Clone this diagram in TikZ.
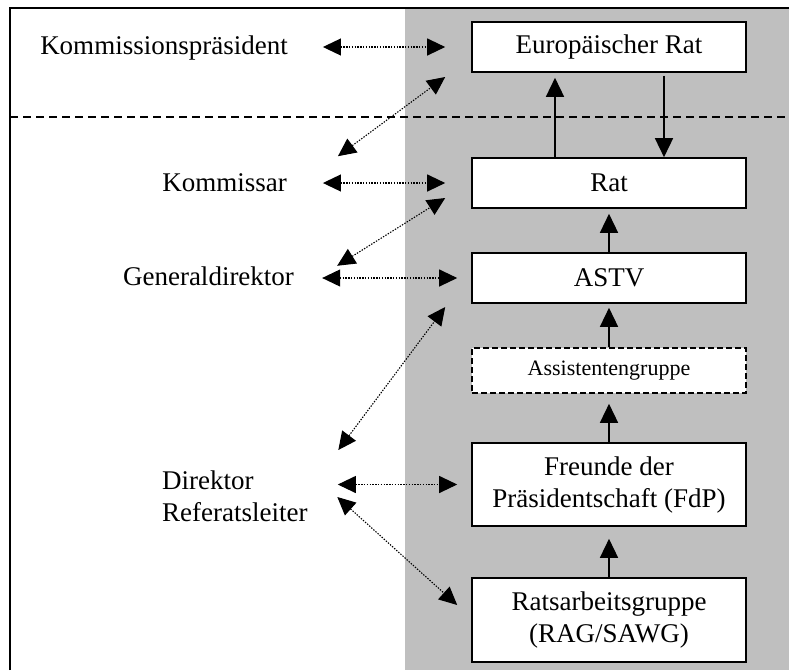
\documentclass[tikz,border=0pt]{standalone}
\usepackage{fontspec}
\setmainfont{Liberation Serif}
\usetikzlibrary{arrows.meta,calc}

\begin{document}
\begin{tikzpicture}[x=1pt,y=-1pt,font=\fontsize{27}{32}\selectfont,
  box/.style={draw,line width=1.6pt,fill=white,minimum width=274pt,align=center},
  lbl/.style={inner sep=0pt},
  flow/.style={line width=1.5pt,-{Triangle[length=19pt,width=18pt]}},
  link/.style={line width=1.1pt,dash pattern=on 1.4pt off 1.4pt,{Triangle[length=18pt,width=17pt]}-{Triangle[length=18pt,width=17pt]}}]
% council side sits on the grey band, commission side on white
% dashed line splits political level from the rest

\useasboundingbox (0,0) rectangle (789,670);
\fill[black!25] (405,8) rectangle (789,670);
\draw[line width=1.6pt] (10,670) -- (10,8) -- (789,8);
\draw[line width=1.5pt,dash pattern=on 8pt off 5pt] (10,117) -- (789,117);

\node[box,minimum height=50pt] (eur) at (609,47) {Europäischer Rat};
\node[box,minimum height=50pt] (rat) at (609,183) {Rat};
\node[box,minimum height=50pt] (astv) at (609,278) {ASTV};
\node[box,dash pattern=on 6pt off 3pt,minimum height=45pt,font=\fontsize{22}{26}\selectfont] (asg) at (609,370.5) {Assistentengruppe};
\node[box,minimum height=83pt] (fdp) at (609,484.5) {Freunde der\\Präsidentschaft (FdP)};
\node[box,minimum height=84pt] (rag) at (609,620) {Ratsarbeitsgruppe\\(RAG/SAWG)};

\node[lbl,anchor=base] (kp) at (164,54) {Kommissionspräsident};
\node[lbl,anchor=base] (kom) at (224.5,191) {Kommissar};
\node[lbl,anchor=base] (gd) at (208.5,285) {Generaldirektor};
\node[lbl,anchor=west,align=left] (dir) at (162,496) {Direktor\\Referatsleiter};

% council chain
\draw[flow,shorten >=5pt] ([xshift=-54pt]rat.north) -- ([xshift=-54pt]eur.south);
\draw[flow,shorten <=3pt] ([xshift=55pt]eur.south) -- ([xshift=55pt]rat.north);
\draw[flow,shorten >=5pt] (astv) -- (rat);
\draw[flow,shorten >=4pt] (asg) -- (astv);
\draw[flow,shorten >=10pt] (fdp) -- (asg);
\draw[flow,shorten >=12pt] (rag) -- (fdp);

% contacts between both sides
\draw[link,shorten <=35pt,shorten >=26pt] (kp.east |- eur.west) -- (eur.west);
\draw[link,shorten <=36pt,shorten >=26pt] (kom.east |- rat.west) -- (rat.west);
\draw[link,shorten <=28pt,shorten >=14pt] (gd.east |- astv.west) -- (astv.west);
\draw[link,shorten <=30pt,shorten >=14pt] (dir.east |- fdp.west) -- (fdp.west);

\draw[link] ($(kom.east)+(51,-26)$) -- ($(eur.west)+(-26,30)$);
\draw[link] ($(gd.east)+(43,-10)$) -- ($(rat.west)+(-26,15)$);
\draw[link] ($(dir.east)+(30.5,-46)$) -- ($(astv.west)+(-26,29)$);
\draw[link] ($(dir.east)+(29.5,1)$) -- ($(rag.west)+(-14,-15)$);
\end{tikzpicture}
\end{document}
